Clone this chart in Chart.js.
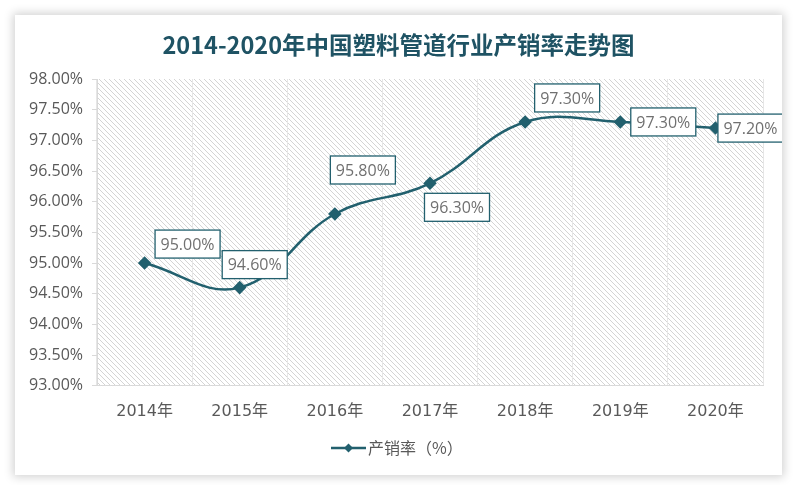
<!DOCTYPE html>
<html>
<head>
<meta charset="utf-8">
<script src="https://cdn.jsdelivr.net/npm/chart.js@4/dist/chart.umd.min.js"></script>
<style>
    html, body { margin: 0; padding: 0; background: #ffffff; }
    body { width: 800px; height: 485px; position: relative; overflow: hidden; }
    #card {
        position: absolute; left: 15px; top: 15px; width: 767px; height: 460px;
        background: #ffffff; box-shadow: 0 0 9px 2px rgba(0, 0, 0, 0.18);
    }
    #chart { display: block; }
</style>
</head>
<body>
<div id="card"><canvas id="chart" width="767" height="460"></canvas></div>
<script>
const years = ["2014年", "2015年", "2016年", "2017年", "2018年", "2019年", "2020年"];
const salesRate = [95.0, 94.6, 95.8, 96.3, 97.3, 97.3, 97.2];
const seriesName = "产销率（%）";
const chartTitle = "2014-2020年中国塑料管道行业产销率走势图";

const lineColor = "#22606e";
const textGray = "#595959";

// diagonal hatch for the plot background
function makeHatch() {
    const s = 5;
    const c = document.createElement("canvas");
    c.width = s; c.height = s;
    const g = c.getContext("2d");
    g.strokeStyle = "#d4d4d4";
    g.lineWidth = 1;
    g.beginPath();
    g.moveTo(0, 0); g.lineTo(s, s);
    g.moveTo(-1, s - 1); g.lineTo(1, s + 1);
    g.moveTo(s - 1, -1); g.lineTo(s + 1, 1);
    g.stroke();
    return c;
}

const hatchPlugin = {
    id: "hatch",
    beforeDraw(chart) {
        const { ctx, chartArea: a } = chart;
        ctx.save();
        ctx.fillStyle = ctx.createPattern(makeHatch(), "repeat");
        ctx.fillRect(a.left, a.top, a.right - a.left, a.bottom - a.top);
        ctx.restore();
    }
};

// title centred on the whole card, not on the padded layout box
const titlePlugin = {
    id: "cardTitle",
    afterDraw(chart) {
        const ctx = chart.ctx;
        ctx.save();
        ctx.font = "bold 23.5px 'Noto Sans CJK SC', sans-serif";
        ctx.fillStyle = "#1f5364";
        ctx.textAlign = "center";
        ctx.textBaseline = "middle";
        ctx.fillText(chartTitle, chart.width / 2, 30);
        ctx.restore();
    }
};

// boxed value labels, nudged like the original
const labelOffsets = [[43, -19], [15, -23], [28, -44], [27, 24], [42, -24], [43, 0], [35, 0]];
const valueLabelPlugin = {
    id: "valueLabels",
    afterDatasetsDraw(chart) {
        const ctx = chart.ctx;
        const pts = chart.getDatasetMeta(0).data;
        ctx.save();
        ctx.font = "16px 'Open Sans', sans-serif";
        ctx.textAlign = "center";
        ctx.textBaseline = "middle";
        pts.forEach((p, i) => {
            const txt = salesRate[i].toFixed(2) + "%";
            const cx = p.x + labelOffsets[i][0];
            const cy = p.y + labelOffsets[i][1];
            const w = ctx.measureText(txt).width + 11;
            const h = 28;
            ctx.fillStyle = "#ffffff";
            ctx.fillRect(cx - w / 2, cy - h / 2, w, h);
            ctx.strokeStyle = lineColor;
            ctx.lineWidth = 1.3;
            ctx.strokeRect(cx - w / 2, cy - h / 2, w, h);
            ctx.fillStyle = "#707070";
            ctx.fillText(txt, cx, cy + 1);
        });
        ctx.restore();
    }
};

const legendPlugin = {
    id: "lineLegend",
    afterDraw(chart) {
        const ctx = chart.ctx;
        const y = 433;
        const x0 = 316;
        ctx.save();
        ctx.strokeStyle = lineColor;
        ctx.lineWidth = 2.5;
        ctx.beginPath();
        ctx.moveTo(x0, y); ctx.lineTo(x0 + 35, y);
        ctx.stroke();
        ctx.fillStyle = lineColor;
        ctx.beginPath();
        ctx.moveTo(x0 + 17.5, y - 4.5); ctx.lineTo(x0 + 22, y);
        ctx.lineTo(x0 + 17.5, y + 4.5); ctx.lineTo(x0 + 13, y);
        ctx.closePath(); ctx.fill();
        ctx.font = "16px 'Noto Sans CJK SC', sans-serif";
        ctx.fillStyle = textGray;
        ctx.textAlign = "left";
        ctx.textBaseline = "middle";
        ctx.fillText(seriesName, x0 + 37, y);
        ctx.restore();
    }
};

new Chart(document.getElementById("chart").getContext("2d"), {
    type: "line",
    data: {
        labels: years,
        datasets: [{
            label: seriesName,
            data: salesRate,
            borderColor: lineColor,
            backgroundColor: lineColor,
            borderWidth: 2.5,
            tension: 0.4,
            pointStyle: "rectRot",
            pointRadius: 5,
            pointHoverRadius: 5
        }]
    },
    options: {
        responsive: false,
        animation: false,
        layout: { padding: { left: 0, right: 19, top: 64, bottom: 38 } },
        plugins: {
            legend: { display: false },
            tooltip: { enabled: false },
            title: { display: false }
        },
        scales: {
            x: {
                offset: true,
                grid: { display: true, offset: true, color: "#e6e6e6", drawTicks: false },
                border: { display: true, color: "#d9d9d9" },
                ticks: {
                    color: textGray, padding: 16,
                    font: { family: "'DejaVu Sans', 'Noto Sans CJK SC', sans-serif", size: 16 }
                }
            },
            y: {
                min: 93, max: 98,
                afterFit(axis) { axis.width = 82; },
                grid: { drawOnChartArea: false, drawTicks: true, tickLength: 5, color: "#d9d9d9" },
                border: { display: true, color: "#d9d9d9" },
                ticks: {
                    stepSize: 0.5, color: textGray, padding: 9,
                    font: { family: "'Open Sans', sans-serif", size: 16 },
                    callback: v => v.toFixed(2) + "%"
                }
            }
        }
    },
    plugins: [hatchPlugin, valueLabelPlugin, legendPlugin, titlePlugin]
});
</script>
</body>
</html>
